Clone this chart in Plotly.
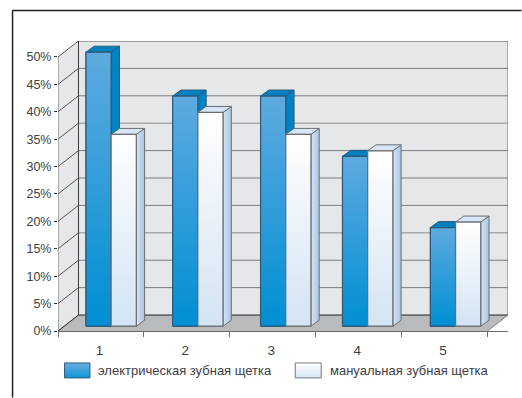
import plotly.graph_objects as go

# Survey results
categories = [1, 2, 3, 4, 5]
electric = [50, 42, 42, 31, 18]
manual = [35, 39, 35, 32, 19]
series_names = ["электрическая зубная щетка", "мануальная зубная щетка"]
y_ticks = [0, 5, 10, 15, 20, 25, 30, 35, 40, 45, 50]

# Canvas and plot-area geometry, in pixels
W, H = 522, 398
LEFT, RIGHT, TOP, BOTTOM = 58, 508.5, 41, 331.5
PX_PER_CAT = 86.0
PX_PER_UNIT = 5.49

# Depth of the box and of the bars, converted to axis units
WALL_DX = 20.5 / PX_PER_CAT
WALL_DY = 16.0 / PX_PER_UNIT
BAR_DX = 8.3 / PX_PER_CAT
BAR_DY = 6.0 / PX_PER_UNIT
BAR_LIFT = 4.8 / PX_PER_UNIT
BAR_W = 25.2 / PX_PER_CAT
GROUP_SHIFT = 10.2 / PX_PER_CAT
GROUP_NUDGE = [0.0, 0.8, 2.8, -1.2, 0.8]  # small per-group spacing tweak, px
LABEL_SHIFT = -1.5 / PX_PER_CAT

X0 = 0.5
X1 = X0 + (RIGHT - LEFT) / PX_PER_CAT
Y1 = (BOTTOM - TOP) / PX_PER_UNIT
XF = X1 - WALL_DX  # right end of the front edge

FONT = "Liberation Sans, Arial, sans-serif"
TEXT = "#414042"
EDGE = "#6a6c70"


def px(x):
    return (x - LEFT) / (RIGHT - LEFT)


def py(y):
    return (BOTTOM - y) / (BOTTOM - TOP)


shapes = []


def poly(points, fill):
    path = "M" + " L".join(f"{x},{y}" for x, y in points) + " Z"
    shapes.append(dict(type="path", path=path, xref="x", yref="y", layer="below",
                       fillcolor=fill, line=dict(color=fill, width=0)))


def seg(x0, y0, x1, y1, color, width=1):
    shapes.append(dict(type="line", x0=x0, y0=y0, x1=x1, y1=y1, xref="x", yref="y",
                       layer="below", line=dict(color=color, width=width)))


# Box: left wall, back wall and floor
poly([(X0, 0), (X0 + WALL_DX, WALL_DY), (X0 + WALL_DX, Y1), (X0, Y1 - WALL_DY)], "#e6e7e9")
poly([(X0 + WALL_DX, WALL_DY), (X1, WALL_DY), (X1, Y1), (X0 + WALL_DX, Y1)], "#e6e7e9")
poly([(X0, 0), (X0 + WALL_DX, WALL_DY), (X1, WALL_DY), (XF, 0)], "#b9babc")

# Gridlines run along the left wall and across the back wall
soft_lines = {15, 35}
for v in y_ticks[1:]:
    back = v + WALL_DY
    seg(X0, v, X0 + WALL_DX, back, "#45464a", 0.9)
    if v == 50:
        seg(X0 + WALL_DX, back, X1, back, "#808285", 1.5)
    elif v in soft_lines:
        seg(X0 + WALL_DX, back, X1, back, "#a7a9ac", 1.4)
    else:
        seg(X0 + WALL_DX, back, X1, back, "#6d6e71", 0.9)
seg(X0, 0, X0, Y1 - WALL_DY, "#6d6e71", 1)
seg(X0 + WALL_DX, WALL_DY, X0 + WALL_DX, Y1, "#3a3b3e", 1)
seg(X1, WALL_DY, X1, Y1, "#808285", 1.2)
seg(X0, 0, X0 + WALL_DX, WALL_DY, "#222222", 1)
seg(X0 + WALL_DX, WALL_DY, X1, WALL_DY, "#222222", 1)
seg(XF, 0, X1, WALL_DY, "#808285", 1)

fig = go.Figure()

group_x = [c + GROUP_SHIFT + n / PX_PER_CAT for c, n in zip(categories, GROUP_NUDGE)]

# Bar bases; the front faces get their gradient further down
fig.add_trace(go.Bar(x=group_x, y=electric, base=BAR_LIFT, name=series_names[0],
                     width=BAR_W, offset=-BAR_W,
                     marker=dict(color="#2f9bd8", line=dict(color="#2f4a5c", width=1)),
                     hoverinfo="skip", showlegend=False))
fig.add_trace(go.Bar(x=group_x, y=manual, base=BAR_LIFT, name=series_names[1],
                     width=BAR_W, offset=0,
                     marker=dict(color="#eef4fb", line=dict(color="#66696c", width=1)),
                     hoverinfo="skip", showlegend=False))


def face(xs, ys, line_color, line_width=1, **fill):
    fig.add_trace(go.Scatter(x=xs, y=ys, mode="lines", fill="toself",
                             line=dict(color=line_color, width=line_width),
                             hoverinfo="skip", showlegend=False, **fill))


def vertical_gradient(top, bottom, y_lo, y_hi):
    return dict(fillgradient=dict(type="vertical", start=y_hi, stop=y_lo,
                                  colorscale=[[0, top], [1, bottom]]))


def horizontal_gradient(left, right, x_lo, x_hi):
    return dict(fillgradient=dict(type="horizontal", start=x_lo, stop=x_hi,
                                  colorscale=[[0, left], [1, right]]))


def draw_bar(x_lo, value, front_top, front_bottom, side_left, side_right, top_col, edge):
    x_hi = x_lo + BAR_W
    y_lo = BAR_LIFT
    y_hi = BAR_LIFT + value
    # side face
    face([x_hi, x_hi + BAR_DX, x_hi + BAR_DX, x_hi, x_hi],
         [y_lo, y_lo + BAR_DY, y_hi + BAR_DY, y_hi, y_lo], edge,
         **horizontal_gradient(side_left, side_right, x_hi, x_hi + BAR_DX))
    # top face
    face([x_lo, x_lo + BAR_DX, x_hi + BAR_DX, x_hi, x_lo],
         [y_hi, y_hi + BAR_DY, y_hi + BAR_DY, y_hi, y_hi], edge, fillcolor=top_col)
    # front face
    face([x_lo, x_hi, x_hi, x_lo, x_lo], [y_lo, y_lo, y_hi, y_hi, y_lo], edge, 1.2,
         **vertical_gradient(front_top, front_bottom, y_lo, y_hi))


for gx, e_val, m_val in zip(group_x, electric, manual):
    draw_bar(gx - BAR_W, e_val, "#5eaadf", "#008fd4", "#0082c4", "#0082c4", "#0080bf", "#2c5a78")
    draw_bar(gx, m_val, "#ffffff", "#d3e4f4", "#d6e5f5", "#a8c5e3", "#d5e6f6", "#6b6e71")


# Legend swatches are drawn row by row to carry the same gradient as the bars
def mix(c0, c1, t):
    a = [int(c0[i:i + 2], 16) for i in (1, 3, 5)]
    b = [int(c1[i:i + 2], 16) for i in (1, 3, 5)]
    return "rgb(" + ",".join(str(round(p + (q - p) * t)) for p, q in zip(a, b)) + ")"


def swatch(x0, x1, y0, y1, top, bottom, edge):
    rows = int(y1 - y0)
    for r in range(rows):
        shapes.append(dict(type="rect", xref="paper", yref="paper", layer="above",
                           x0=px(x0), x1=px(x1), y0=py(y0 + r), y1=py(y0 + r + 1),
                           fillcolor=mix(top, bottom, r / max(rows - 1, 1)), line=dict(width=0)))
    shapes.append(dict(type="rect", xref="paper", yref="paper", layer="above",
                       x0=px(x0), x1=px(x1), y0=py(y0), y1=py(y1),
                       fillcolor="rgba(0,0,0,0)", line=dict(color=edge, width=1)))


swatch(64.5, 90, 363.5, 378.5, "#5eaadf", "#008fd4", "#2f5f7c")
swatch(295.5, 321.5, 363.5, 378.5, "#ffffff", "#d3e4f4", "#77797c")

# Outer frame: open on the right and at the bottom
for x0, y0, x1, y1 in [(12.5, 10.5, 522, 10.5), (12.5, 10.5, 12.5, 398)]:
    shapes.append(dict(type="line", xref="paper", yref="paper", layer="above",
                       x0=px(x0), y0=py(y0), x1=px(x1), y1=py(y1),
                       line=dict(color="#222222", width=1.5)))

annotations = [
    dict(text=series_names[0], x=px(96), y=py(371), xref="paper", yref="paper",
         xanchor="left", yanchor="middle", showarrow=False, font=dict(size=13, color=TEXT, family=FONT)),
    dict(text=series_names[1], x=px(328), y=py(371), xref="paper", yref="paper",
         xanchor="left", yanchor="middle", showarrow=False, font=dict(size=13, color=TEXT, family=FONT)),
]

fig.update_layout(
    width=W, height=H, autosize=False,
    margin=dict(l=LEFT, r=W - RIGHT, t=TOP, b=H - BOTTOM, pad=0),
    paper_bgcolor="white", plot_bgcolor="rgba(0,0,0,0)",
    barmode="overlay",
    shapes=shapes, annotations=annotations, showlegend=False,
    font=dict(family=FONT, size=12, color=TEXT),
    xaxis=dict(range=[X0, X1], tickmode="array", tickvals=[c + LABEL_SHIFT for c in categories],
               ticktext=[str(c) for c in categories], ticks="", ticklabelstandoff=7,
               showgrid=False, zeroline=False, showline=True, linecolor=EDGE, linewidth=1,
               tickfont=dict(size=13.5, color=TEXT),
               minor=dict(tickmode="array",
                          tickvals=[c - 0.5 for c in categories] + [categories[-1] + 0.5],
                          ticks="outside", ticklen=5, tickcolor=EDGE, tickwidth=1, showgrid=False)),
    yaxis=dict(range=[0, Y1], tickmode="array", tickvals=y_ticks,
               ticktext=[f"{v}%" for v in y_ticks], ticks="outside", ticklen=3,
               tickcolor="#333333", showgrid=False, zeroline=False, showline=False,
               tickfont=dict(size=12.5, color=TEXT)),
)

fig.write_html("out.html", config=dict(displayModeBar=False))
